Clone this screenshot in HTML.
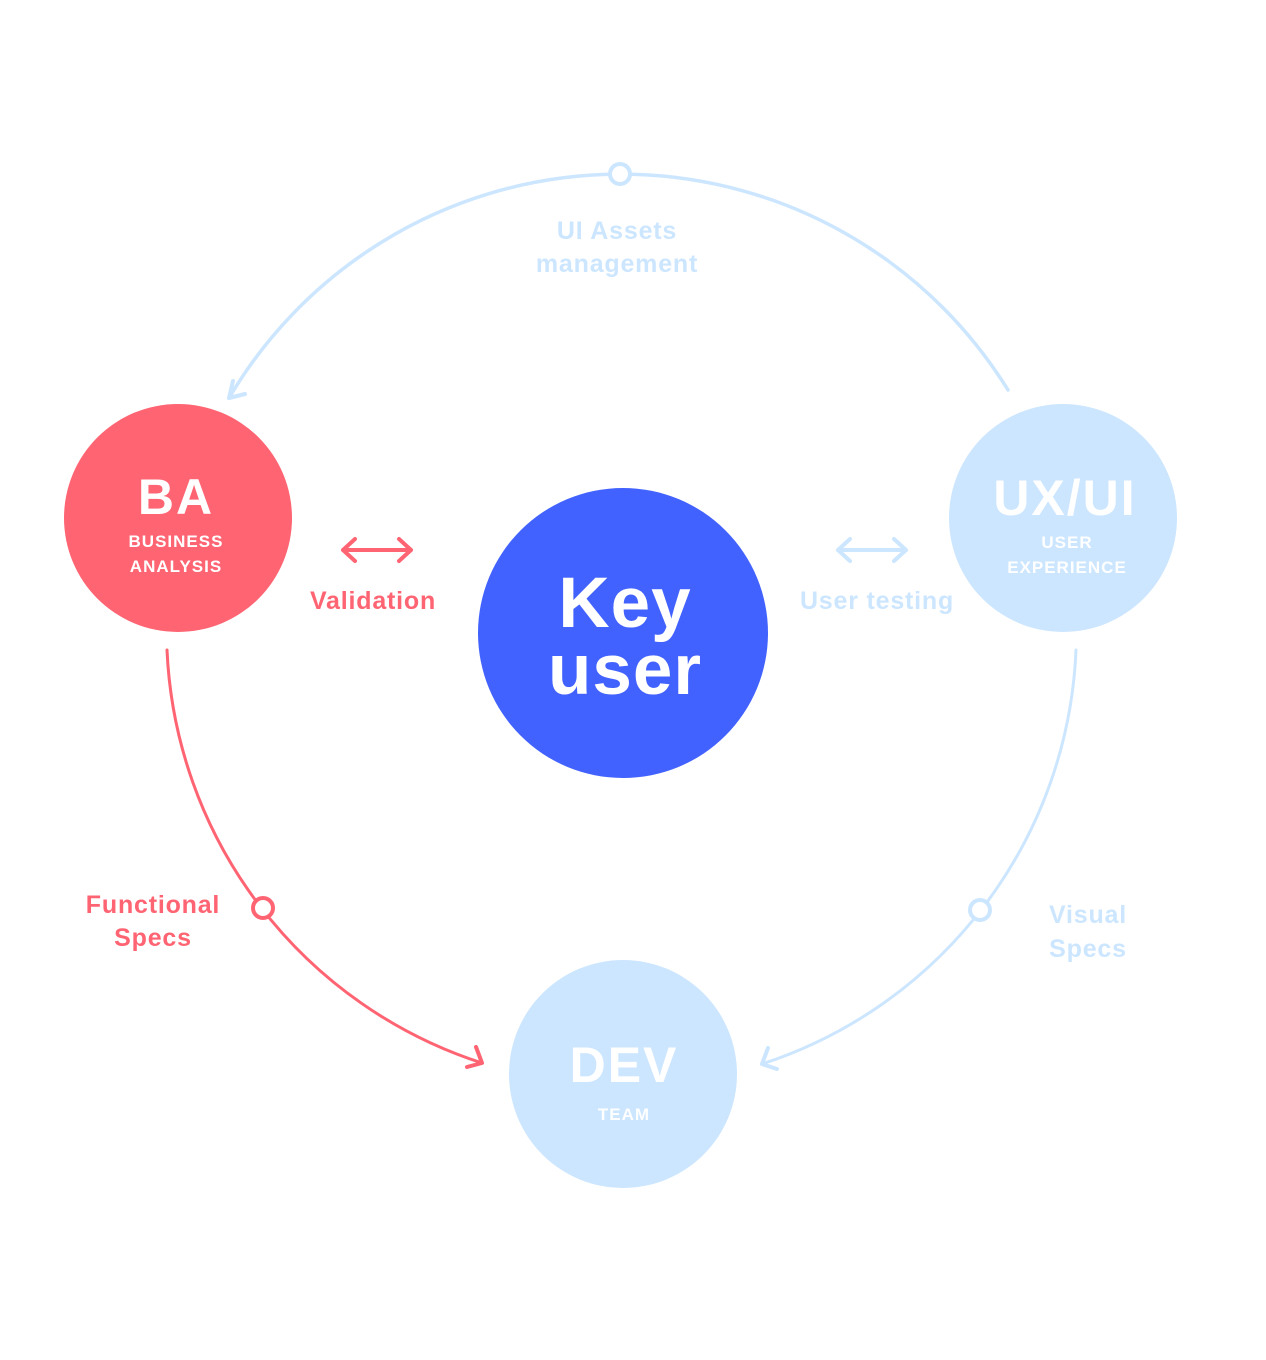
<!DOCTYPE html>
<html><head><meta charset="utf-8"><style>
html,body{margin:0;padding:0;background:#fff}
svg{display:block}
text{font-family:"Liberation Sans",sans-serif;font-weight:bold}
</style></head><body>
<svg width="1266" height="1360" viewBox="0 0 1266 1360">
<g fill="none" stroke-linecap="round" stroke-linejoin="round">
<path d="M229 398 A455 455 0 0 1 1008 390" stroke="#CCE6FF" stroke-width="3.5"/>
<path d="M233 381 L229 398 L245 394" stroke="#CCE6FF" stroke-width="4"/>
<path d="M167 650 A455 455 0 0 0 482 1063" stroke="#FF6473" stroke-width="3"/>
<path d="M476 1047 L482 1063 L467 1067" stroke="#FF6473" stroke-width="4"/>
<path d="M1076 650 A455 455 0 0 1 762 1064" stroke="#CCE6FF" stroke-width="3"/>
<path d="M768 1048 L762 1064 L777 1069" stroke="#CCE6FF" stroke-width="4"/>
<path d="M343 550 H411 M355 539 L343 550 L355 561 M399 539 L411 550 L399 561" stroke="#FF6473" stroke-width="4"/>
<path d="M838 550 H906 M850 539 L838 550 L850 561 M894 539 L906 550 L894 561" stroke="#CCE6FF" stroke-width="4"/>
</g>
<circle cx="620" cy="174" r="10" fill="#fff" stroke="#CCE6FF" stroke-width="4"/>
<circle cx="263" cy="908" r="10" fill="#fff" stroke="#FF6473" stroke-width="4"/>
<circle cx="980" cy="910" r="10" fill="#fff" stroke="#CCE6FF" stroke-width="4"/>
<circle cx="178" cy="518" r="114" fill="#FF6473"/>
<circle cx="1063" cy="518" r="114" fill="#CCE6FF"/>
<circle cx="623" cy="633" r="145" fill="#4262FF"/>
<circle cx="623" cy="1074" r="114" fill="#CCE6FF"/>
<g fill="#fff" text-anchor="middle">
<text x="176" y="514" font-size="50" letter-spacing="2">BA</text>
<text x="176" y="547" font-size="17" letter-spacing="1">BUSINESS</text>
<text x="176" y="572" font-size="17" letter-spacing="1">ANALYSIS</text>
<text x="1065" y="515" font-size="50" letter-spacing="2">UX/UI</text>
<text x="1067" y="548" font-size="17" letter-spacing="1">USER</text>
<text x="1067" y="573" font-size="17" letter-spacing="1">EXPERIENCE</text>
<text x="625" y="627" font-size="71" letter-spacing="1">Key</text>
<text x="625" y="694" font-size="71" letter-spacing="1">user</text>
<text x="624" y="1082" font-size="50" letter-spacing="2">DEV</text>
<text x="624" y="1120" font-size="17" letter-spacing="1">TEAM</text>
</g>
<g font-size="25" text-anchor="middle" letter-spacing="0.8">
<text x="373" y="609" fill="#FF6473">Validation</text>
<text x="877" y="609" fill="#CCE6FF">User testing</text>
<text x="617" y="239" fill="#CCE6FF">UI Assets</text>
<text x="617" y="272" fill="#CCE6FF">management</text>
<text x="153" y="913" fill="#FF6473">Functional</text>
<text x="153" y="946" fill="#FF6473">Specs</text>
<text x="1088" y="923" fill="#CCE6FF">Visual</text>
<text x="1088" y="957" fill="#CCE6FF">Specs</text>
</g>
</svg>
</body></html>
